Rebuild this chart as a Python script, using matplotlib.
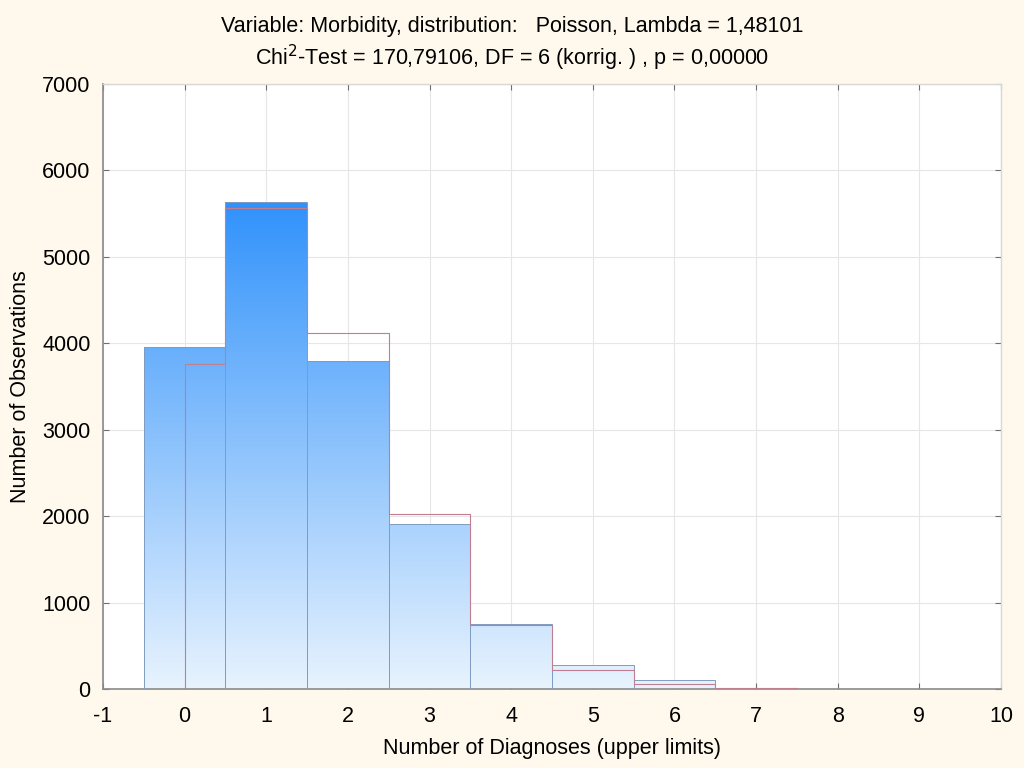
import matplotlib.pyplot as plt
import numpy as np
from matplotlib.colors import LinearSegmentedColormap

plt.rcParams['font.family'] = ['Liberation Sans', 'DejaVu Sans']
plt.rcParams['axes.unicode_minus'] = False

# Dane
diagnoses = [0, 1, 2, 3, 4, 5, 6, 7, 8, 9]
observed = [3955, 5635, 3795, 1910, 752, 278, 104, 16, 3, 1]
expected = [3762, 5567, 4120, 2025, 745, 220, 52, 11]

title_1 = 'Variable: Morbidity, distribution:   Poisson, Lambda = 1,48101'
title_2 = 'Chi$^{2}$-Test = 170,79106, DF = 6 (korrig. ) , p = 0,00000'

bg = '#FEF9EC'
fig = plt.figure(figsize=(10.24, 7.68), dpi=100, facecolor=bg)
ax = fig.add_axes([0.1006, 0.1029, 0.8769, 0.7877])
ax.set_facecolor('white')

# Slupki z gradientem
cmap = LinearSegmentedColormap.from_list('blu', ['#E8F3FE', '#3192FB'])
bars = ax.bar(diagnoses, observed, width=1.0, color='none',
              edgecolor='#7F9CC2', linewidth=0.7, zorder=3)
grad = np.linspace(0, 1, 256).reshape(-1, 1)
ymax = max(observed)
for b in bars:
    im = ax.imshow(grad, cmap=cmap, origin='lower', aspect='auto',
                   extent=[-0.5, 9.5, 0, ymax], zorder=2)
    im.set_clip_path(b)

# Linia rozkladu oczekiwanego (schodki)
xs = [0, 0]
ys = [0, expected[0]]
for i, e in enumerate(expected):
    x_left = 0 if i == 0 else i - 0.5
    x_right = i + 0.5
    if i > 0:
        xs += [x_left]
        ys += [e]
    xs += [x_right]
    ys += [e]
ax.plot(xs, ys, color='#C07F90', linewidth=0.8, zorder=4)

ax.set_xlim(-1, 10)
ax.set_ylim(0, 7000)
ax.set_xticks(range(-1, 11))
ax.set_yticks(range(0, 7001, 1000))
ax.grid(True, color='#E6E6E6', linewidth=0.8, zorder=0)
ax.set_axisbelow(True)

for s in ['left', 'bottom']:
    ax.spines[s].set_color('#8A8A8A')
    ax.spines[s].set_linewidth(1.2)
for s in ['top', 'right']:
    ax.spines[s].set_color('#D8D8D8')
    ax.spines[s].set_linewidth(1.0)

ax.tick_params(axis='both', direction='in', length=4, color='#707070',
               labelsize=15.5, top=True, right=True)
ax.tick_params(axis='x', pad=12)
ax.tick_params(axis='y', pad=9)

ax.set_xlabel('Number of Diagnoses (upper limits)', fontsize=15.5, labelpad=8)
ax.set_ylabel('Number of Observations', fontsize=15.5, labelpad=8)

fig.text(0.5, 0.966, title_1, ha='center', va='center', fontsize=15.5)
fig.text(0.5, 0.924, title_2, ha='center', va='center', fontsize=15.5)

fig.savefig('out.png', dpi=100, facecolor=bg)
